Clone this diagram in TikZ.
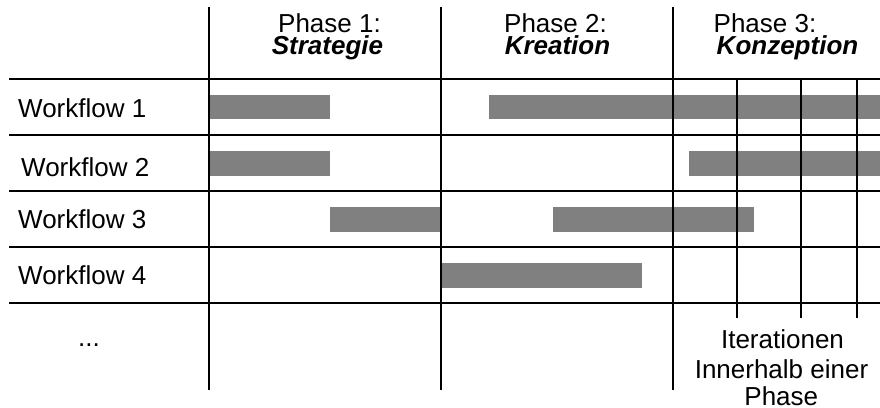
\documentclass[tikz,border=0pt]{standalone}
\usepackage{fontspec}
\setmainfont{Liberation Sans}
\definecolor{bargray}{HTML}{808080}
\begin{document}
\begin{tikzpicture}[x=1pt,y=-1pt,
  grid/.style={line width=1.2pt,black},
  bar/.style={fill=bargray,draw=none},
  lbl/.style={inner sep=0pt,font=\fontsize{26}{29}\selectfont},
  hdr/.style={lbl,anchor=base},
  hdrb/.style={lbl,anchor=base,font=\fontsize{26}{29}\selectfont\bfseries\itshape},
  wf/.style={lbl,anchor=base west}]
\useasboundingbox (0,0) rectangle (880,407);
% bars
\fill[bar] (209,95) rectangle (330,119);
\fill[bar] (489,95) rectangle (880,119);
\fill[bar] (209,151) rectangle (330,176);
\fill[bar] (689,151) rectangle (880,176);
\fill[bar] (330,207) rectangle (441,232);
\fill[bar] (553,207) rectangle (754,232);
\fill[bar] (441,263) rectangle (642,288);
% horizontal lines
\foreach \y in {79,135,191,247,303} \draw[grid] (9,\y) -- (880,\y);
% main vertical lines
\foreach \x in {209,441,673} \draw[grid] (\x,7) -- (\x,390);
% iteration lines
\foreach \x in {737,801,857} \draw[grid] (\x,79) -- (\x,318);
% headers
\node[hdr] (p1) at (329.5,32) {Phase 1:};
\node[hdrb] (p1n) at (327.5,54.5) {Strategie};
\node[hdr] (p2) at (555.5,32) {Phase 2:};
\node[hdrb] (p2n) at (557.5,54.5) {Kreation};
\node[hdr] (p3) at (765,32) {Phase 3:};
\node[hdrb] (p3n) at (787.5,54.5) {Konzeption};
% workflow labels
\node[wf] (w1) at (18,117) {Workflow 1};
\node[wf] (w2) at (21,176) {Workflow 2};
\node[wf] (w3) at (18,228) {Workflow 3};
\node[wf] (w4) at (18,284) {Workflow 4};
\node[hdr] (dots) at (89,346.5) {...};
% iteration note
\node[hdr] (it1) at (782.5,348) {Iterationen};
\node[hdr] (it2) at (781.5,378) {Innerhalb einer};
\node[hdr] (it3) at (781.3,405) {Phase};
\end{tikzpicture}
\end{document}
